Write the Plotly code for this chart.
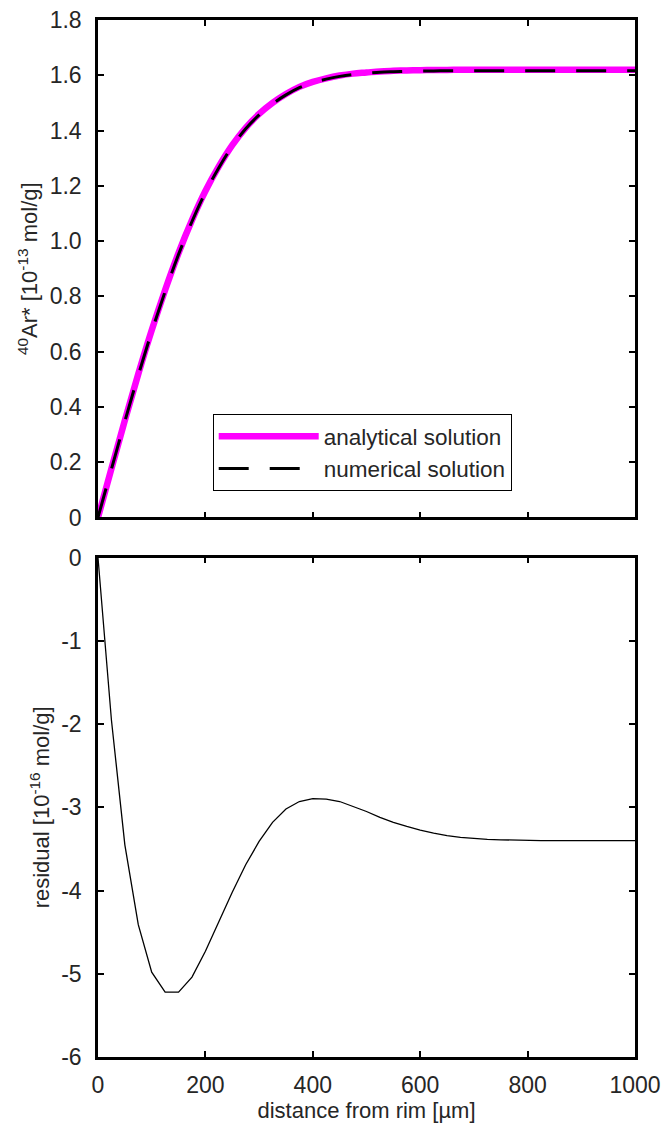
import plotly.graph_objects as go

# distance from rim [µm]
distance = [0, 25, 50, 75, 100, 125, 150, 175, 200, 225, 250, 275, 300, 325, 350,
            375, 400, 425, 450, 475, 500, 525, 550, 575, 600, 625, 650, 675, 700,
            725, 750, 775, 800, 825, 850, 875, 900, 925, 950, 975, 1000]

# 40Ar* analytical solution [1e-13 mol/g]
analytical = [0.0, 0.177, 0.351, 0.519, 0.677, 0.823, 0.957, 1.076, 1.181, 1.270,
              1.347, 1.410, 1.460, 1.500, 1.532, 1.558, 1.576, 1.589, 1.599, 1.606,
              1.610, 1.614, 1.616, 1.6176, 1.6186, 1.619, 1.6195, 1.6198, 1.62,
              1.62, 1.62, 1.62, 1.62, 1.62, 1.62, 1.62, 1.62, 1.62, 1.62, 1.62, 1.62]

# residual [1e-16 mol/g]
residual = [0.0, -1.95, -3.45, -4.41, -4.98, -5.22, -5.22, -5.04, -4.73, -4.37,
            -4.02, -3.69, -3.41, -3.18, -3.02, -2.93, -2.895, -2.90, -2.93, -2.99,
            -3.05, -3.12, -3.18, -3.23, -3.275, -3.31, -3.34, -3.36, -3.375, -3.385,
            -3.39, -3.395, -3.40, -3.40, -3.40, -3.40, -3.40, -3.40, -3.40, -3.40, -3.40]

# numerical = analytical + residual (residual is 1000x smaller unit)
numerical = [a + r * 1e-3 for a, r in zip(analytical, residual)]

x_ticks = [0, 200, 400, 600, 800, 1000]
top_ticks = [0, 0.2, 0.4, 0.6, 0.8, 1.0, 1.2, 1.4, 1.6, 1.8]
top_ticktext = ["0", "0.2", "0.4", "0.6", "0.8", "1.0", "1.2", "1.4", "1.6", "1.8"]
bot_ticks = [-6, -5, -4, -3, -2, -1, 0]
bot_ticktext = ["-6", "-5", "-4", "-3", "-2", "-1", "0"]

FONT = "Liberation Sans, Arial, Helvetica, sans-serif"
TXT = "#262626"

fig = go.Figure()
fig.add_trace(go.Scatter(x=distance, y=analytical, mode="lines", name="analytical solution",
                         line=dict(color="#ff00ff", width=6.5, shape="spline"),
                         xaxis="x", yaxis="y"))
fig.add_trace(go.Scatter(x=distance, y=numerical, mode="lines", name="numerical solution",
                         line=dict(color="black", width=3, dash="30px,21px", shape="spline"),
                         xaxis="x", yaxis="y"))
fig.add_trace(go.Scatter(x=distance, y=residual, mode="lines", showlegend=False,
                         line=dict(color="black", width=1.3),
                         xaxis="x2", yaxis="y2"))

axis_common = dict(showline=True, linecolor="black", linewidth=2.5, mirror="ticks",
                   ticks="inside", ticklen=6, tickwidth=2, tickcolor="black",
                   showgrid=False, zeroline=False, automargin=False,
                   tickfont=dict(family=FONT, size=23, color=TXT))

fig.update_layout(
    width=666, height=1134,
    margin=dict(l=98, r=31, t=20, b=77, autoexpand=False),
    paper_bgcolor="white", plot_bgcolor="white",
    font=dict(family=FONT, size=22, color=TXT),
    xaxis=dict(axis_common, domain=[0, 1], range=[0, 1000], tickvals=x_ticks,
               showticklabels=False, anchor="y"),
    yaxis=dict(axis_common, domain=[0.5203, 1], range=[0, 1.8], tickvals=top_ticks,
               ticktext=top_ticktext, anchor="x", ticklabelstandoff=9,
               title=dict(text="<sup>40</sup>Ar* [10<sup>-13</sup> mol/g]",
                          font=dict(family=FONT, size=22, color=TXT), standoff=6)),
    xaxis2=dict(axis_common, domain=[0, 1], range=[0, 1000], tickvals=x_ticks,
                anchor="y2", ticklabelstandoff=6,
                title=dict(text="distance from rim [µm]",
                           font=dict(family=FONT, size=22, color=TXT), standoff=4)),
    yaxis2=dict(axis_common, domain=[0, 0.4815], range=[-6, 0], tickvals=bot_ticks,
                ticktext=bot_ticktext, anchor="x2", ticklabelstandoff=9,
                title=dict(text="residual [10<sup>-16</sup> mol/g]",
                           font=dict(family=FONT, size=22, color=TXT), standoff=6)),
    legend=dict(x=0.2136, y=0.62, xanchor="left", yanchor="top",
                bgcolor="white", bordercolor="black", borderwidth=1,
                font=dict(family=FONT, size=22.5, color=TXT), itemwidth=100,
                tracegroupgap=0),
    showlegend=True,
)

fig.write_html(
    "out.html",
    config={"displayModeBar": False},
    post_script="document.body.style.margin='0';document.body.style.overflow='hidden';",
)
